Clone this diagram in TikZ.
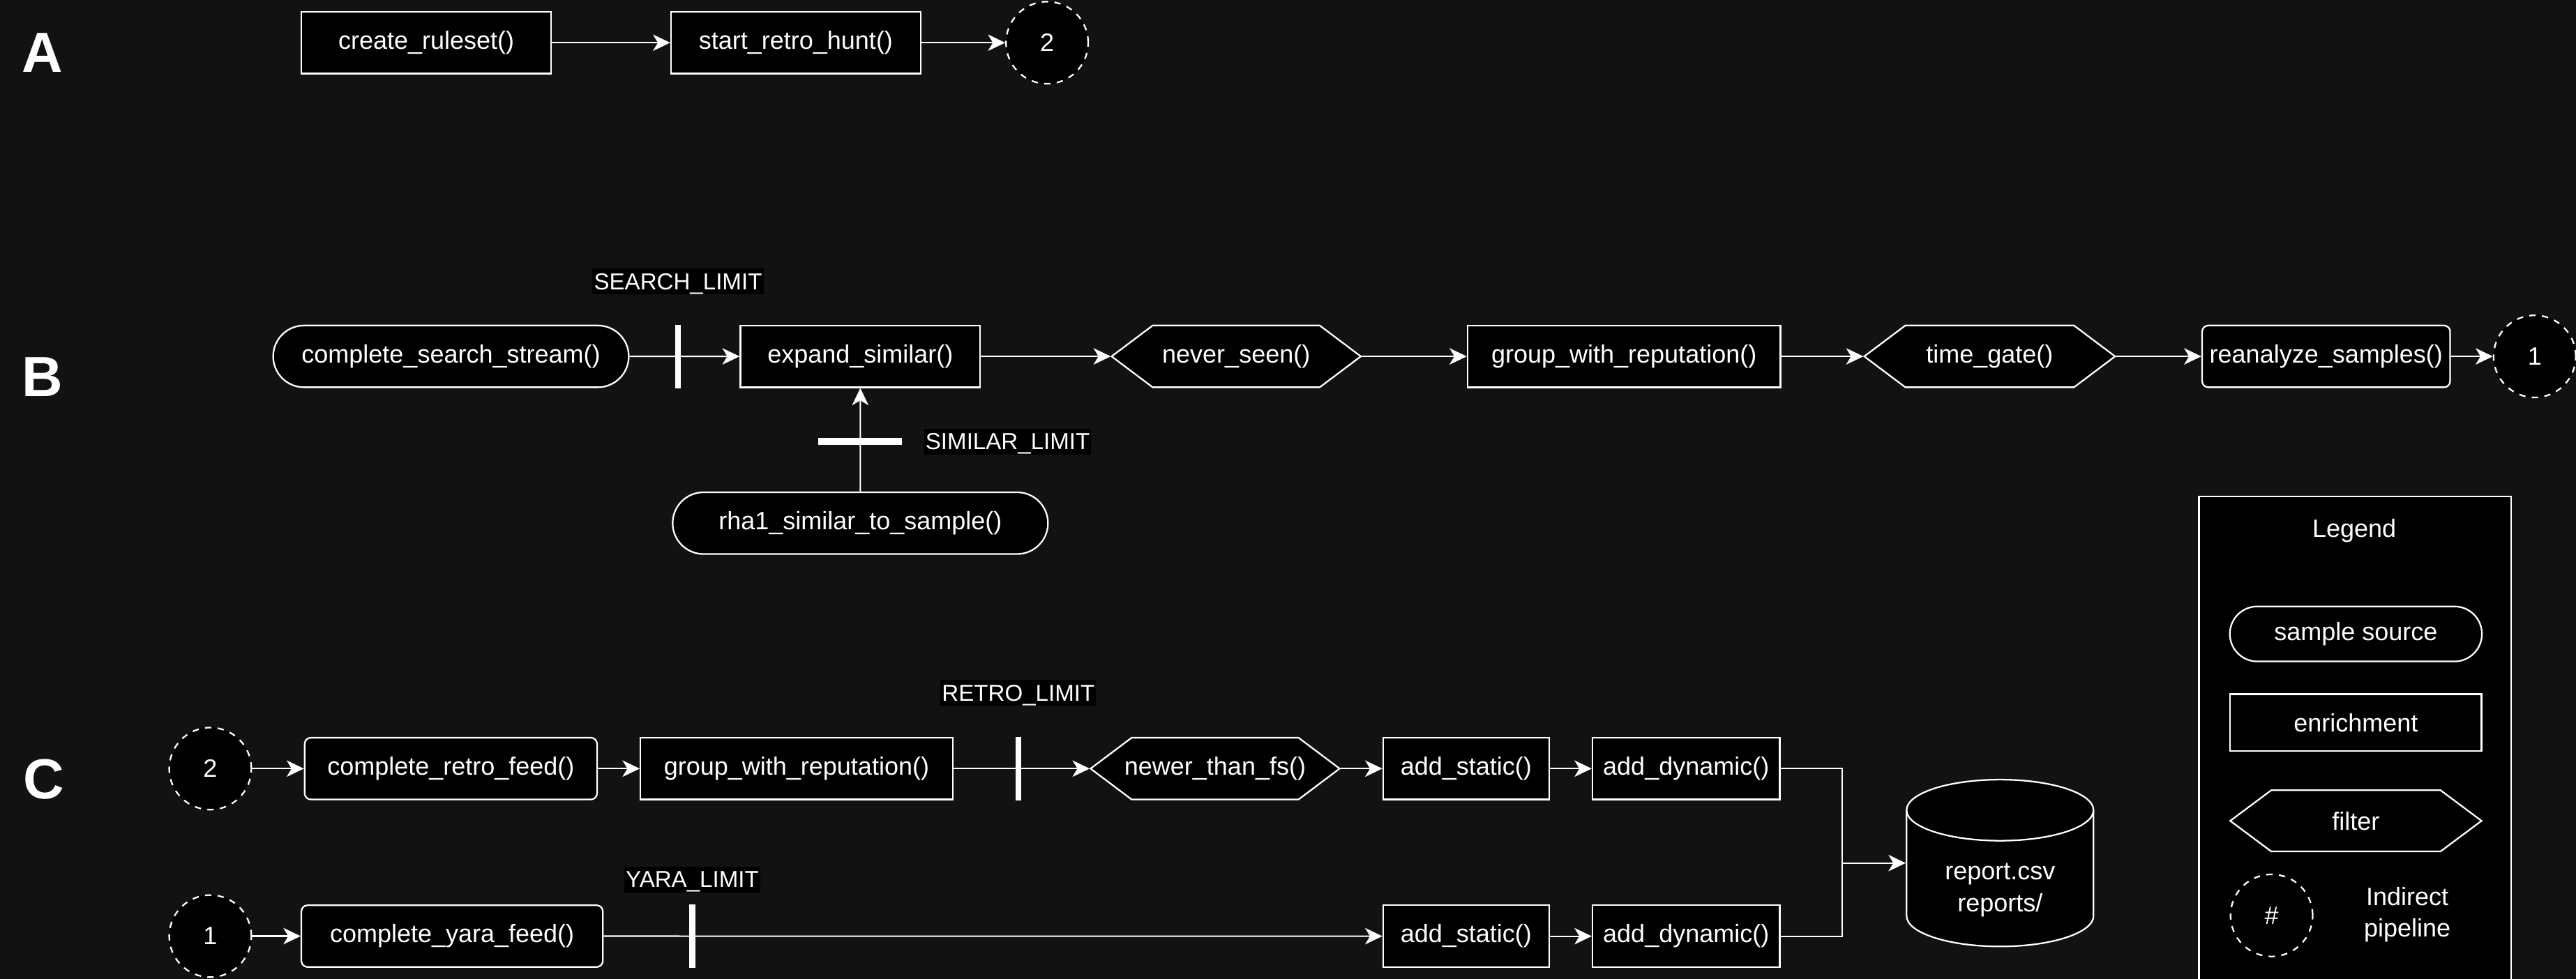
\documentclass[tikz,border=0pt]{standalone}
\usepackage{fontspec}
\setmainfont{Liberation Sans}
\usepackage{tikz}
\usetikzlibrary{arrows.meta,positioning,shapes.misc,calc}
\definecolor{canvas}{HTML}{121212}

\begin{document}
\begin{tikzpicture}[
    x=0.02cm, y=-0.02cm,
    >={Stealth[length=0.21cm, width=0.2cm, inset=0.06cm]},
    every node/.style={text=white, font=\fontsize{8.7}{10.9}\selectfont},
    box/.style={draw=white, fill=black, line width=0.55pt, minimum height=0.752cm,
                inner sep=1pt, align=center},
    soft/.style={box, rounded corners=0.075cm},
    source/.style={box, rounded rectangle},
    filt/.style={minimum height=0.822cm, inner sep=1pt, outer sep=-0.7pt,
        path picture={
            \draw[white, fill=black, line width=0.55pt]
                ([xshift=0.035cm]path picture bounding box.west)
                -- ([shift={(0.535cm,-0.035cm)}]path picture bounding box.north west)
                -- ([shift={(-0.535cm,-0.035cm)}]path picture bounding box.north east)
                -- ([xshift=-0.035cm]path picture bounding box.east)
                -- ([shift={(-0.535cm,0.035cm)}]path picture bounding box.south east)
                -- ([shift={(0.535cm,0.035cm)}]path picture bounding box.south west)
                -- cycle;
        }},
    store/.style={inner sep=0pt, outer sep=-0.7pt,
        path picture={
            \draw[white, fill=black, line width=0.55pt]
                ([shift={(0.035cm,-0.407cm)}]path picture bounding box.north west)
                -- ([shift={(0.035cm,0.407cm)}]path picture bounding box.south west)
                arc[start angle=180, end angle=360, x radius=1.138cm, y radius=0.372cm]
                -- ([shift={(-0.035cm,-0.407cm)}]path picture bounding box.north east)
                arc[start angle=0, end angle=180, x radius=1.138cm, y radius=0.372cm]
                -- cycle;
            \draw[white, line width=0.55pt]
                ([shift={(0.035cm,-0.407cm)}]path picture bounding box.north west)
                arc[start angle=180, end angle=360, x radius=1.138cm, y radius=0.372cm];
        }},
    jump/.style={circle, draw=white, fill=black, line width=0.55pt,
                 dash pattern=on 2.2pt off 2.2pt, minimum size=1.0cm, inner sep=0pt},
    cut/.style={fill=white, inner sep=0pt, outer sep=0pt,
                minimum width=2pt, minimum height=0.772cm},
    hcut/.style={fill=white, inner sep=0pt, outer sep=0pt,
                 minimum width=1.02cm, minimum height=2.2pt},
    limit/.style={fill=black, inner xsep=0.5pt, inner ysep=0pt,
                  text height=7.24pt, text depth=1.7pt,
                  font=\fontsize{8}{9.6}\selectfont},
    lane/.style={font=\fontsize{19.6}{20}\selectfont\bfseries},
    flow/.style={->, draw=white, line width=0.5pt},
    wire/.style={draw=white, line width=0.5pt},
]
\useasboundingbox (0,0) rectangle (1568,596);
\fill[canvas] (0,0) rectangle (1568,596);

% --- A: retro hunt ---
\node[lane] (laneA) at (26,32) {A};
\node[box, minimum width=3.04cm] (create) at (259.5,26) {create\_ruleset()};
\node[box, minimum width=3.04cm, right=1.44cm of create] (retrohunt) {start\_retro\_hunt()};
\node[jump, right=1.02cm of retrohunt] (goto2) {2};

\draw[flow] (create) -- (retrohunt);
\draw[flow] (retrohunt) -- (goto2);

% --- B: search stream ---
\node[lane] (laneB) at (26,229.7) {B};
\node[source, minimum width=4.40cm] (search) at (274.5,217) {complete\_search\_stream()};
\node[box, minimum width=2.92cm, right=1.34cm of search] (expand) {expand\_similar()};
\node[filt, minimum width=3.104cm, right=1.58cm of expand] (neverseen) {never\_seen()};
\node[box, minimum width=3.81cm, right=1.28cm of neverseen] (groupB) {group\_with\_reputation()};
\node[filt, minimum width=3.124cm, right=1.0cm of groupB] (timegate) {time\_gate()};
\node[soft, minimum width=3.02cm, right=1.04cm of timegate] (reanalyze) {reanalyze\_samples()};
\node[jump, right=0.51cm of reanalyze] (goto1) {1};
\node[source, minimum width=4.64cm, below=1.26cm of expand] (similar) {rha1\_similar\_to\_sample()};

\node[cut] (searchcut) at ([xshift=0.59cm]search.east) {};
\node[limit, above=0.36cm of searchcut] (searchlim) {SEARCH\_LIMIT};
\node[hcut] (similarcut) at ([yshift=0.61cm]similar.north) {};
\node[limit, right=0.26cm of similarcut] (similarlim) {SIMILAR\_LIMIT};

\draw[flow] (search) -- (expand);
\draw[flow] (expand) -- (neverseen);
\draw[flow] (neverseen) -- (groupB);
\draw[flow] (groupB) -- (timegate);
\draw[flow] (timegate) -- (reanalyze);
\draw[flow] (reanalyze) -- (goto1);
\draw[flow] (similar) -- (expand);

% --- C: feeds ---
\node[lane] (laneC) at (26.5,474.5) {C};
\node[jump] (from2) at (128,468) {2};
\node[soft, minimum width=3.56cm, right=0.63cm of from2] (retrofeed) {complete\_retro\_feed()};
\node[box, minimum width=3.80cm, right=0.51cm of retrofeed] (groupC) {group\_with\_reputation()};
\node[filt, minimum width=3.102cm, right=1.66cm of groupC] (newer) {newer\_than\_fs()};
\node[box, minimum width=2.02cm, right=0.51cm of newer] (staticC) {add\_static()};
\node[box, minimum width=2.28cm, right=0.51cm of staticC] (dynamicC) {add\_dynamic()};
\node[cut] (retrocut) at ([xshift=0.79cm]groupC.east) {};
\node[limit, above=0.37cm of retrocut] (retrolim) {RETRO\_LIMIT};

\node[jump] (from1) at (128,570) {1};
\node[soft, minimum width=3.67cm, right=0.59cm of from1] (yarafeed) {complete\_yara\_feed()};
\node[box, minimum width=2.02cm, below=1.27cm of staticC] (staticY) {add\_static()};
\node[box, minimum width=2.28cm, right=0.51cm of staticY] (dynamicY) {add\_dynamic()};
\node[cut] (yaracut) at ([xshift=1.08cm]yarafeed.east) {};
\node[limit, above=0.14cm of yaracut] (yaralim) {YARA\_LIMIT};

\node[store, minimum width=2.346cm, minimum height=2.102cm,
      label={[align=center, yshift=-0.33cm]center:{report.csv\\reports/}}]
    (report) at (1217.4,525.5) {};
\coordinate (merge) at ([xshift=-0.77cm]report.west);

\draw[flow] (from2) -- (retrofeed);
\draw[flow] (retrofeed) -- (groupC);
\draw[flow] (groupC) -- (newer);
\draw[flow] (newer) -- (staticC);
\draw[flow] (staticC) -- (dynamicC);
\draw[flow] (from1) -- (yarafeed);
\draw[flow] (yarafeed) -- (staticY);
\draw[flow] (staticY) -- (dynamicY);
\draw[wire] (dynamicC) -| (merge);
\draw[wire] (dynamicY) -| (merge);
\draw[flow] (merge) -- (report);

% --- Legend ---
\begin{scope}
\clip (0,0) rectangle (1568,596);
\node[draw=white, fill=black, line width=0.55pt, minimum width=3.80cm,
      minimum height=6.4cm, inner sep=0pt] (legend) at (1433.5,462.3) {};
\end{scope}
\node (legtitle) at (1433,323) {Legend};
\node[source, minimum width=3.14cm, minimum height=0.67cm] (legsource) at (1434,386) {sample source};
\node[box, minimum width=3.06cm, minimum height=0.694cm] (legenrich) at (1434,440) {enrichment};
\node[filt, minimum width=3.13cm, minimum height=0.816cm] (legfilter) at (1434,499.8) {filter};
\node[jump] (legpipe) at (1382.7,557.4) {\#};
\node[align=center] (legpipetext) at (1465.3,557) {Indirect\\pipeline};

\end{tikzpicture}
\end{document}
